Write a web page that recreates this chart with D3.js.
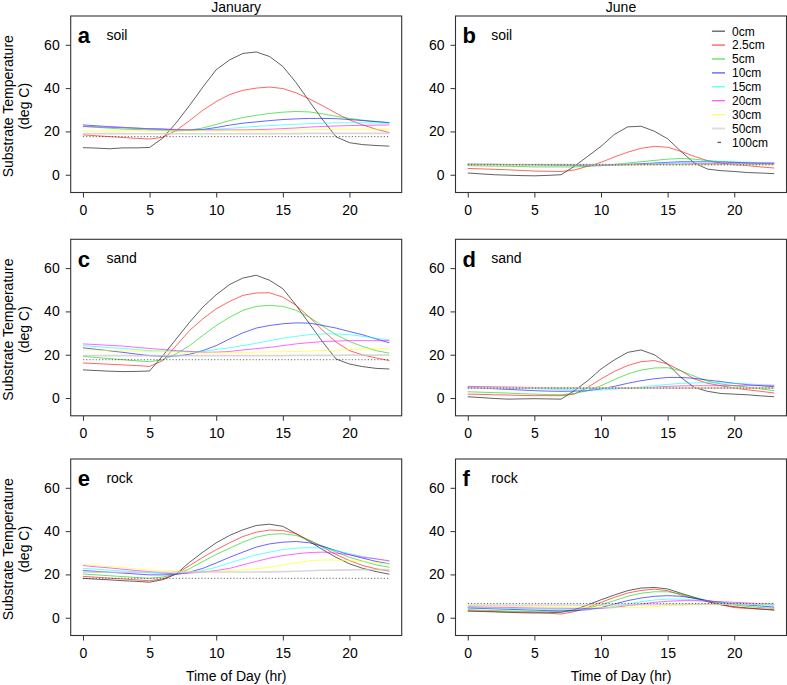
<!DOCTYPE html>
<html><head><meta charset="utf-8">
<script src="https://cdn.jsdelivr.net/npm/d3@7"></script>
<style>
body{margin:0;background:#fff}
svg{display:block}
text{font-family:"Liberation Sans",Arial,Helvetica,sans-serif;fill:#000}
</style>
</head><body>
<svg id="chart" width="787" height="685"></svg>
<script>
// ---------------- data ----------------
const hours = [0,1,2,3,4,5,6,7,8,9,10,11,12,13,14,15,16,17,18,19,20,21,22,23];
const depths = ["0cm","2.5cm","5cm","10cm","15cm","20cm","30cm","50cm","100cm"];
const depthColors = ["#000000","#ff0000","#00d000","#0000ff","#00ffff","#ff00ff","#ffff00","#c8c8c8","#000000"];
const months = ["January","June"];
const substrates = ["soil","sand","rock"];
const panelLetters = ["a","b","c","d","e","f"];
const yTicks = [0,20,40,60];
const xTicks = [0,5,10,15,20];

// January soil (panel a): rows = depths
const janSoil = [
 [12.5,12.3,12.0,12.4,12.4,12.6,17.0,24.0,32.0,40.5,48.5,53.0,56.0,56.7,54.6,50.0,42.5,33.8,25.3,17.5,14.8,13.9,13.5,13.2],
 [18.4,18.0,17.6,17.2,16.8,16.5,17.3,20.5,25.0,29.8,33.8,37.0,39.0,40.0,40.5,39.8,37.8,35.0,31.8,28.4,25.3,23.0,21.0,19.5],
 [22.3,21.9,21.5,21.1,20.9,20.7,20.5,20.2,20.6,21.6,23.2,25.0,26.4,27.4,28.3,28.9,29.2,29.0,28.1,27.0,26.0,25.2,24.6,24.1],
 [23.0,22.6,22.2,21.9,21.5,21.2,21.0,20.7,20.6,20.9,21.8,22.9,23.8,24.4,25.0,25.5,25.8,26.0,26.0,25.9,25.5,25.0,24.5,24.0],
 [22.5,22.3,22.0,21.8,21.5,21.3,21.1,20.9,20.7,20.8,21.0,21.4,21.9,22.3,22.7,23.0,23.3,23.6,23.8,24.0,24.0,24.0,23.9,23.8],
 [22.3,22.1,21.9,21.7,21.5,21.3,21.1,20.9,20.7,20.7,20.7,20.7,20.7,20.8,21.0,21.3,21.6,22.0,22.3,22.5,22.7,22.8,22.9,23.0],
 [20.2,20.2,20.2,20.3,20.3,20.3,20.3,20.3,20.3,20.3,20.3,20.3,20.3,20.4,20.5,20.6,20.7,20.8,20.9,21.0,21.0,21.0,21.0,21.0],
 [19.0,19.0,19.0,19.0,18.9,18.9,18.9,18.9,18.9,18.9,18.9,18.9,19.0,19.0,19.0,19.0,19.0,19.1,19.1,19.1,19.1,19.1,19.1,19.1],
 [17.6,17.6,17.6,17.6,17.6,17.6,17.6,17.6,17.6,17.6,17.6,17.6,17.6,17.6,17.6,17.6,17.6,17.6,17.6,17.6,17.6,17.6,17.6,17.6]
];
// June soil (panel b)
const junSoil = [
 [0.8,0.4,0.0,-0.2,-0.4,-0.5,-0.3,0.0,3.9,8.5,13.1,18.6,22.1,22.4,20.1,16.6,10.8,5.4,2.6,1.9,1.5,1.0,0.8,0.5],
 [2.9,2.7,2.5,2.3,2.0,1.7,1.6,1.5,2.2,3.9,5.7,8.2,10.4,12.2,13.1,12.7,10.8,8.5,6.5,5.4,4.6,4.2,3.6,3.1],
 [4.2,4.1,4.0,3.9,3.8,3.6,3.6,3.6,3.6,3.9,4.3,4.8,5.4,6.0,6.6,7.2,7.5,7.2,6.5,6.1,5.7,5.4,5.2,5.0],
 [4.9,4.8,4.8,4.7,4.7,4.6,4.5,4.4,4.3,4.2,4.2,4.5,4.8,5.1,5.4,5.7,6.0,6.0,6.0,5.9,5.7,5.6,5.5,5.4],
 [4.8,4.7,4.7,4.6,4.6,4.5,4.5,4.4,4.4,4.3,4.3,4.4,4.6,4.8,5.1,5.4,5.7,5.9,6.0,6.0,5.9,5.8,5.6,5.5],
 [4.8,4.8,4.8,4.7,4.7,4.7,4.7,4.6,4.6,4.6,4.6,4.6,4.6,4.7,4.8,4.9,5.0,5.1,5.2,5.2,5.2,5.2,5.2,5.2],
 [4.5,4.5,4.5,4.5,4.5,4.5,4.5,4.5,4.5,4.5,4.5,4.5,4.5,4.5,4.5,4.5,4.6,4.6,4.6,4.6,4.6,4.6,4.6,4.6],
 [4.7,4.7,4.7,4.7,4.7,4.7,4.7,4.7,4.7,4.7,4.7,4.7,4.7,4.7,4.7,4.7,4.7,4.7,4.7,4.7,4.7,4.7,4.7,4.7],
 [4.6,4.6,4.6,4.6,4.6,4.6,4.6,4.6,4.6,4.6,4.6,4.6,4.6,4.6,4.6,4.6,4.6,4.6,4.6,4.6,4.6,4.6,4.6,4.6]
];
// January sand (panel c)
const janSand = [
 [13.0,12.7,12.4,12.2,12.3,12.5,19.6,27.3,35.0,42.0,47.7,52.4,55.4,56.7,54.4,50.5,42.8,34.3,25.8,18.0,15.7,14.5,13.7,13.4],
 [16.2,15.9,15.6,15.3,15.0,14.6,17.3,24.2,31.2,36.6,41.2,44.6,47.4,48.5,48.6,46.6,42.8,37.3,31.2,25.8,21.9,19.9,18.5,17.3],
 [19.3,18.7,18.2,17.7,17.2,16.8,17.7,20.4,24.2,28.9,33.5,37.3,40.5,42.3,42.8,42.3,40.5,37.3,33.2,29.2,26.1,23.8,21.9,20.7],
 [23.2,22.5,21.8,21.1,20.3,19.6,19.3,19.4,20.2,21.9,24.2,27.3,30.1,32.3,33.5,34.3,34.7,34.6,33.5,32.3,30.7,29.2,27.3,25.5],
 [24.2,23.8,23.3,22.9,22.4,21.9,21.7,21.5,21.4,21.5,22.4,23.2,24.2,25.3,26.5,27.6,28.5,29.3,29.6,29.6,29.3,28.5,27.6,26.8],
 [25.0,24.7,24.3,24.0,23.4,22.9,22.4,21.9,21.5,21.1,21.2,21.5,22.2,22.8,23.4,24.2,25.0,25.6,26.1,26.3,26.5,26.5,26.5,26.5],
 [22.2,22.1,21.9,21.8,21.6,21.5,21.4,21.3,21.1,21.1,21.1,21.1,21.1,21.2,21.3,21.4,21.5,21.7,21.9,22.1,22.4,22.6,22.8,22.9],
 [19.6,19.6,19.6,19.6,19.6,19.6,19.6,19.6,19.6,19.6,19.6,19.6,19.6,19.6,19.6,19.6,19.7,19.7,19.7,19.7,19.8,19.8,19.8,19.8],
 [17.7,17.7,17.7,17.7,17.7,17.7,17.7,17.7,17.7,17.7,17.7,17.7,17.7,17.7,17.7,17.7,17.7,17.7,17.7,17.7,17.7,17.7,17.7,17.7]
];
// June sand (panel d)
const junSand = [
 [0.6,0.2,-0.2,-0.5,-0.4,-0.3,-0.4,-0.5,3.4,8.0,13.4,17.6,21.1,22.2,20.0,15.7,9.5,4.9,3.1,2.1,1.8,1.5,1.0,0.6],
 [1.8,1.7,1.5,1.4,1.2,1.1,1.1,1.1,1.8,4.9,8.8,12.3,15.0,16.8,17.3,15.7,12.6,8.8,6.8,5.7,4.6,3.8,3.1,2.3],
 [2.9,2.7,2.5,2.3,2.0,1.8,1.6,1.5,2.1,3.4,5.7,8.5,11.1,12.9,13.9,14.0,12.6,10.1,7.8,6.5,5.7,5.0,4.2,3.4],
 [4.9,4.6,4.3,4.0,3.7,3.4,3.2,3.1,3.2,3.4,4.2,5.4,6.8,8.0,8.9,9.5,9.5,9.1,8.3,7.6,6.8,6.2,5.7,5.2],
 [5.2,5.0,4.8,4.7,4.5,4.3,4.1,3.9,3.8,3.7,3.7,4.1,4.6,5.1,5.7,6.3,6.8,7.0,7.1,7.0,6.8,6.5,6.2,6.0],
 [5.4,5.3,5.2,5.1,5.0,4.9,4.8,4.7,4.7,4.6,4.6,4.6,4.6,4.7,5.0,5.4,5.6,5.7,5.7,5.7,5.7,5.7,5.7,5.7],
 [4.8,4.8,4.8,4.8,4.8,4.8,4.8,4.8,4.8,4.8,4.8,4.8,4.8,4.8,4.8,4.8,4.8,4.8,4.8,4.8,4.8,4.8,4.8,4.8],
 [4.6,4.6,4.6,4.6,4.6,4.6,4.6,4.6,4.6,4.6,4.6,4.6,4.6,4.6,4.6,4.6,4.6,4.6,4.6,4.6,4.6,4.6,4.6,4.6],
 [4.6,4.6,4.6,4.6,4.6,4.6,4.6,4.6,4.6,4.6,4.6,4.6,4.6,4.6,4.6,4.6,4.6,4.6,4.6,4.6,4.6,4.6,4.6,4.6]
];
// January rock (panel e)
const janRock = [
 [18.2,17.8,17.5,17.1,16.8,16.4,17.6,20.2,25.6,30.3,34.6,38.0,40.6,42.6,43.2,42.2,38.8,35.2,31.4,27.9,24.9,22.8,21.3,20.1],
 [19.1,18.7,18.3,17.9,17.5,17.1,18.0,20.2,24.1,27.9,31.4,34.6,37.5,39.5,40.5,40.3,38.8,35.7,32.6,29.2,26.4,24.1,22.6,21.5],
 [20.2,19.8,19.4,19.0,18.6,18.2,18.8,20.2,22.6,26.0,29.2,32.1,34.9,37.2,38.5,38.8,38.0,35.7,33.0,30.3,27.9,26.1,24.4,23.3],
 [21.8,21.4,21.0,20.6,20.2,19.8,19.8,20.0,21.1,22.8,25.3,27.9,30.3,32.6,34.1,34.9,35.2,34.6,33.0,31.0,29.1,27.5,26.0,24.9],
 [22.8,22.4,22.0,21.6,21.2,20.7,20.4,20.2,20.8,21.8,23.3,25.3,27.2,29.0,30.3,31.5,32.1,32.4,32.1,31.0,29.6,28.3,27.2,26.0],
 [24.1,23.5,23.0,22.4,21.8,21.3,20.7,20.2,20.6,21.1,21.8,22.8,24.4,26.0,27.5,28.7,29.5,30.1,30.3,29.8,29.1,27.9,27.2,26.3],
 [24.6,24.1,23.6,23.1,22.6,22.1,21.8,21.5,21.2,21.0,21.4,21.8,22.2,22.6,23.3,24.4,25.3,26.3,26.7,26.7,26.3,26.0,25.3,24.9],
 [21.0,21.0,21.0,21.0,21.0,21.0,21.0,21.0,21.1,21.1,21.1,21.1,21.1,21.1,21.2,21.3,21.5,21.7,21.9,22.0,22.1,22.2,22.2,22.2],
 [18.2,18.2,18.2,18.2,18.2,18.2,18.2,18.2,18.2,18.2,18.2,18.2,18.2,18.2,18.2,18.2,18.2,18.2,18.2,18.2,18.2,18.2,18.2,18.2]
];
// June rock (panel f)
const junRock = [
 [3.1,2.9,2.7,2.5,2.3,2.2,2.3,2.5,3.7,5.9,8.3,10.5,12.5,13.7,14.0,13.3,11.3,9.4,7.5,6.0,5.1,4.5,4.0,3.5],
 [3.2,3.0,2.9,2.7,2.6,2.5,2.1,1.7,2.8,4.7,7.1,9.4,11.4,12.6,13.2,12.5,10.5,9.0,7.4,6.0,4.7,4.3,4.0,3.7],
 [3.7,3.5,3.3,3.1,3.0,2.8,2.8,2.8,3.2,4.3,6.0,7.9,9.9,11.3,12.0,12.0,11.0,9.4,7.9,6.6,5.9,5.2,4.7,4.3],
 [4.5,4.3,4.1,3.9,3.7,3.5,3.3,3.2,3.3,3.7,4.7,6.3,7.9,9.1,9.9,10.2,9.9,9.0,7.9,7.1,6.3,5.9,5.4,4.9],
 [4.8,4.6,4.5,4.3,4.2,4.0,3.9,3.8,3.7,3.9,4.3,5.2,6.3,7.4,8.2,8.6,8.6,8.3,7.7,7.1,6.6,6.2,5.9,5.6],
 [5.1,5.0,4.9,4.8,4.6,4.5,4.4,4.4,4.3,4.3,4.4,4.7,5.6,6.3,7.1,7.6,7.9,7.9,7.6,7.4,7.1,6.8,6.5,6.3],
 [5.6,5.5,5.4,5.3,5.2,5.1,5.0,4.9,4.8,4.8,4.7,4.7,4.7,4.8,5.1,5.6,5.8,6.0,6.2,6.3,6.3,6.3,6.3,6.3],
 [5.9,5.9,5.9,5.9,5.9,5.9,5.9,5.9,5.9,5.9,5.9,5.9,5.9,6.0,6.0,6.1,6.1,6.2,6.2,6.3,6.3,6.3,6.3,6.3],
 [6.6,6.6,6.6,6.6,6.6,6.6,6.6,6.6,6.6,6.6,6.6,6.6,6.6,6.6,6.6,6.6,6.6,6.6,6.6,6.6,6.6,6.6,6.6,6.6]
];
const panelData = [janSoil, junSoil, janSand, junSand, janRock, junRock];

// ---------------- layout ----------------
const svg = d3.select("#chart");
const colLeft = [70.7, 455.5], plotW = 331;
const rowTop = [16, 239.3, 459], plotH = 176.5;
const xDomain = [-0.92, 23.92], yDomain = [-8.2, 73.3];
const FS = 14;

panelData.forEach((data, i) => {
  const col = i % 2, row = Math.floor(i / 2);
  const L = colLeft[col], T = rowTop[row];
  const x = d3.scaleLinear().domain(xDomain).range([L, L + plotW]);
  const y = d3.scaleLinear().domain(yDomain).range([T + plotH, T]);
  const g = svg.append("g");

  // series
  const line = d3.line().x((d, k) => x(hours[k])).y(d => y(d));
  data.forEach((series, s) => {
    const p = g.append("path").attr("d", line(series))
      .attr("fill", "none")
      .attr("stroke", depthColors[s])
      .attr("stroke-width", s === 7 ? 1.6 : 1)
      .attr("stroke-opacity", s === 0 ? 0.62 : (s === 7 ? 0.7 : 0.6));
    if (s === 8) p.attr("stroke-dasharray", "1.2,2").attr("stroke-opacity", 0.6);
  });

  // box
  g.append("rect").attr("x", L).attr("y", T).attr("width", plotW).attr("height", plotH)
    .attr("fill", "none").attr("stroke", "#333").attr("stroke-width", 1.1);

  // axes
  const ax = g.append("g").attr("transform", `translate(0,${T + plotH})`)
    .call(d3.axisBottom(x).tickValues(xTicks).tickSize(5).tickPadding(7.5).tickSizeOuter(0));
  const ay = g.append("g").attr("transform", `translate(${L},0)`)
    .call(d3.axisLeft(y).tickValues(yTicks).tickSize(5).tickPadding(6).tickSizeOuter(0));
  [ax, ay].forEach(a => {
    a.select(".domain").remove();
    a.selectAll("line").attr("stroke", "#333").attr("stroke-width", 1);
    a.selectAll("text").attr("font-size", FS).attr("font-family", '"Liberation Sans",Arial,sans-serif').attr("fill", "#111");
  });

  // panel letter and substrate label
  g.append("text").attr("x", L + 7).attr("y", T + 27.3).attr("font-size", 22).attr("font-weight", "bold")
    .text(panelLetters[i]);
  g.append("text").attr("x", L + 35.7).attr("y", T + 23.5).attr("font-size", FS).attr("fill", "#111")
    .text(substrates[row]);

  // y title (left column)
  if (col === 0) {
    const cy = T + plotH / 2 + 2;
    g.append("text").attr("transform", `translate(12.6,${cy}) rotate(-90)`).attr("text-anchor", "middle")
      .attr("font-size", FS).attr("fill", "#111").text("Substrate Temperature");
    g.append("text").attr("transform", `translate(28.6,${cy}) rotate(-90)`).attr("text-anchor", "middle")
      .attr("font-size", FS).attr("fill", "#111").text("(deg C)");
  }
  // month titles
  if (row === 0) {
    g.append("text").attr("x", L + plotW / 2).attr("y", 12).attr("text-anchor", "middle")
      .attr("font-size", FS).attr("fill", "#111").text(months[col]);
  }
  // x title
  if (row === 2) {
    g.append("text").attr("x", L + plotW / 2).attr("y", 680.5).attr("text-anchor", "middle")
      .attr("font-size", FS).attr("fill", "#111").text("Time of Day (hr)");
  }
  // legend in panel b
  if (i === 1) {
    const lg = g.append("g");
    depths.forEach((d, s) => {
      const ly = 31.2 + s * 13.9;
      const ln = lg.append("line").attr("x1", s === 8 ? 717.5 : 712).attr("x2", s === 8 ? 721 : 725)
        .attr("y1", ly).attr("y2", ly)
        .attr("stroke", depthColors[s])
        .attr("stroke-width", s === 7 ? 2 : 1.3)
        .attr("stroke-opacity", s === 7 ? 0.6 : 0.65);
      lg.append("text").attr("x", 732).attr("y", ly).attr("dy", "0.36em")
        .attr("font-size", 12).attr("fill", "#111").text(d);
    });
  }
});
</script>
</body></html>
